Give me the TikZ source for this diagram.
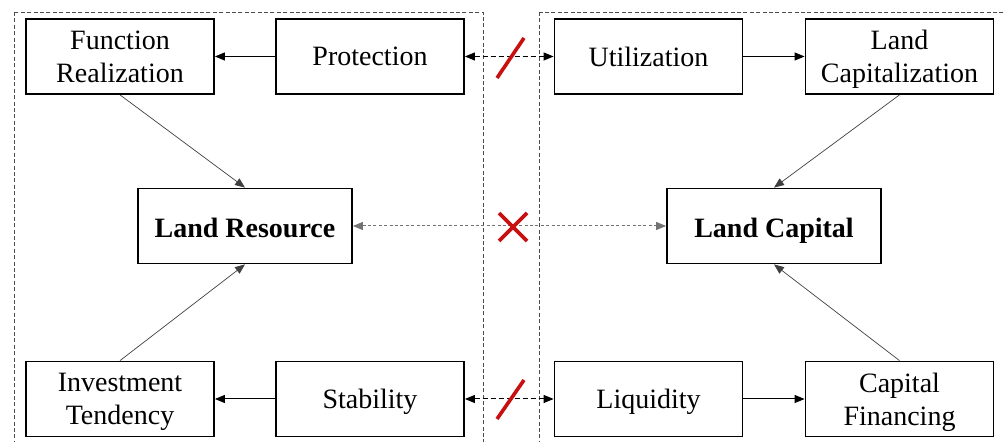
\documentclass[tikz,border=0pt]{standalone}
\usepackage{fontspec}
\setmainfont{Liberation Serif}
\usetikzlibrary{arrows.meta}

\tikzset{
  box/.style={draw, line width=0.9pt, minimum width=94pt, minimum height=37.5pt,
    text depth=0pt, align=center, font=\fontsize{14}{16.5}\selectfont},
  core/.style={box, minimum width=107pt, text height=12pt,
    font=\fontsize{14}{16.5}\selectfont\bfseries},
  tip/.style={-{Triangle[length=5pt,width=4pt]}},
  link/.style={tip, line width=0.5pt},
  slope/.style={tip, line width=0.35pt, draw=black!75},
  gap/.style={{Triangle[length=5pt,width=4pt]}-{Triangle[length=5pt,width=4pt]},
    line width=0.5pt, dash pattern=on 2.5pt off 1.5pt},
  faint/.style={gap, draw=black!55, dash pattern=on 1.5pt off 1.2pt},
  frame/.style={draw=black!70, line width=0.45pt, dash pattern=on 2pt off 1.2pt},
  cut/.style={draw={rgb,255:red,200;green,16;blue,16}, line width=1.8pt}
}

\begin{document}
\begin{tikzpicture}[x=0.5pt, y=-0.5pt]
\useasboundingbox (0,0) rectangle (1006,442);

% Frames
\draw[frame] (14,12) rectangle (483,470);
\draw[frame] (539,12) rectangle (1030,470);

% Nodes
\node[box] (v0) at (120, 56.5) {Function\\Realization};
\node[box] (v1) at (370, 56.5) {Protection};
\node[box] (v2) at (648.5, 56.5) {Utilization};
\node[box] (v3) at (899.5, 56.5) {Land\\Capitalization};
\node[core] (v4) at (245, 226) {Land Resource};
\node[core] (v5) at (774, 226) {Land Capital};
\node[box] (v6) at (120, 399) {Investment\\Tendency};
\node[box] (v7) at (370, 399) {Stability};
\node[box] (v8) at (648.5, 399) {Liquidity};
\node[box] (v9) at (899.5, 399) {Capital\\Financing};

% Arrows
\draw[link] (v1) -- (v0);
\draw[link] (v2) -- (v3);
\draw[link] (v7) -- (v6);
\draw[link] (v8) -- (v9);
\draw[slope] (v0.south) -- (v4.north);
\draw[slope] (v6.north) -- (v4.south);
\draw[slope] (v3.south) -- (v5.north);
\draw[slope] (v9.north) -- (v5.south);
\draw[gap] (v1) -- (v2);
\draw[gap] (v7) -- (v8);
\draw[faint] (v4) -- (v5);

% Breaks
\draw[cut] (497,78) -- (524,38);
\draw[cut] (497,419) -- (524,380);
\draw[cut] (499,213) -- (527,241);
\draw[cut] (499,241) -- (527,213);

\end{tikzpicture}
\end{document}
